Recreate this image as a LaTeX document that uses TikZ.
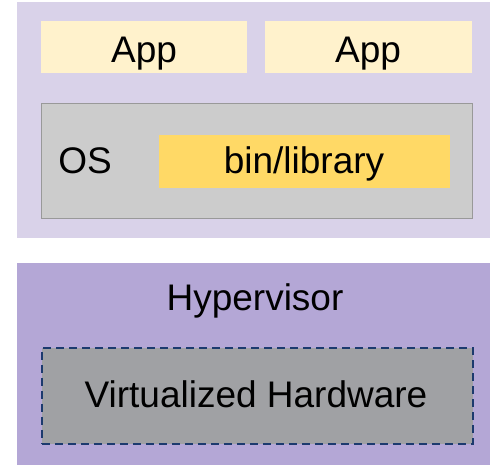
\documentclass[tikz,border=0pt]{standalone}
\usepackage{fontspec}
\setmainfont{Liberation Sans}
\begin{document}
\begin{tikzpicture}[x=1pt,y=-1pt,
  box/.style={draw=none,inner sep=0pt,anchor=north west},
  lbl/.style={inner sep=0pt,anchor=base,font=\fontsize{37}{37}\selectfont}]
\definecolor{vmbg}{HTML}{D9D2E9}
\definecolor{appbg}{HTML}{FFF2CC}
\definecolor{osbg}{HTML}{CCCCCC}
\definecolor{osline}{HTML}{999999}
\definecolor{libbg}{HTML}{FFD966}
\definecolor{hypbg}{HTML}{B4A7D6}
\definecolor{hwbg}{HTML}{A0A1A4}
\definecolor{hwline}{HTML}{1C3A6E}
\useasboundingbox (0,0) rectangle (490,466);
% guest VM
\fill[vmbg] (17,2) rectangle (490,238);
\node[box,fill=appbg,minimum width=206pt,minimum height=52pt] (app1) at (41,21) {};
\node[lbl] at (144,62) {App};
\node[box,fill=appbg,minimum width=207pt,minimum height=52pt] (app2) at (265,21) {};
\node[lbl] at (368,62) {App};
\node[box,fill=osbg,draw=osline,line width=1.2pt,minimum width=431pt,minimum height=115pt] (os) at (41,103) {};
\node[lbl] (ostext) at (85,173) {OS};
\node[box,fill=libbg,minimum width=291pt,minimum height=53pt] (lib) at (159,135) {};
\node[lbl] at (304,173) {bin/library};
% hypervisor
\node[box,fill=hypbg,minimum width=473pt,minimum height=202pt] (hyp) at (17,263) {};
\node[lbl] (hyptext) at (255,310) {Hypervisor};
\node[box,fill=hwbg,draw=hwline,line width=1.5pt,dash pattern=on 8pt off 5pt,minimum width=431pt,minimum height=96pt] (hw) at (41,347) {};
\node[lbl] at (256,407) {Virtualized Hardware};
\end{tikzpicture}
\end{document}
